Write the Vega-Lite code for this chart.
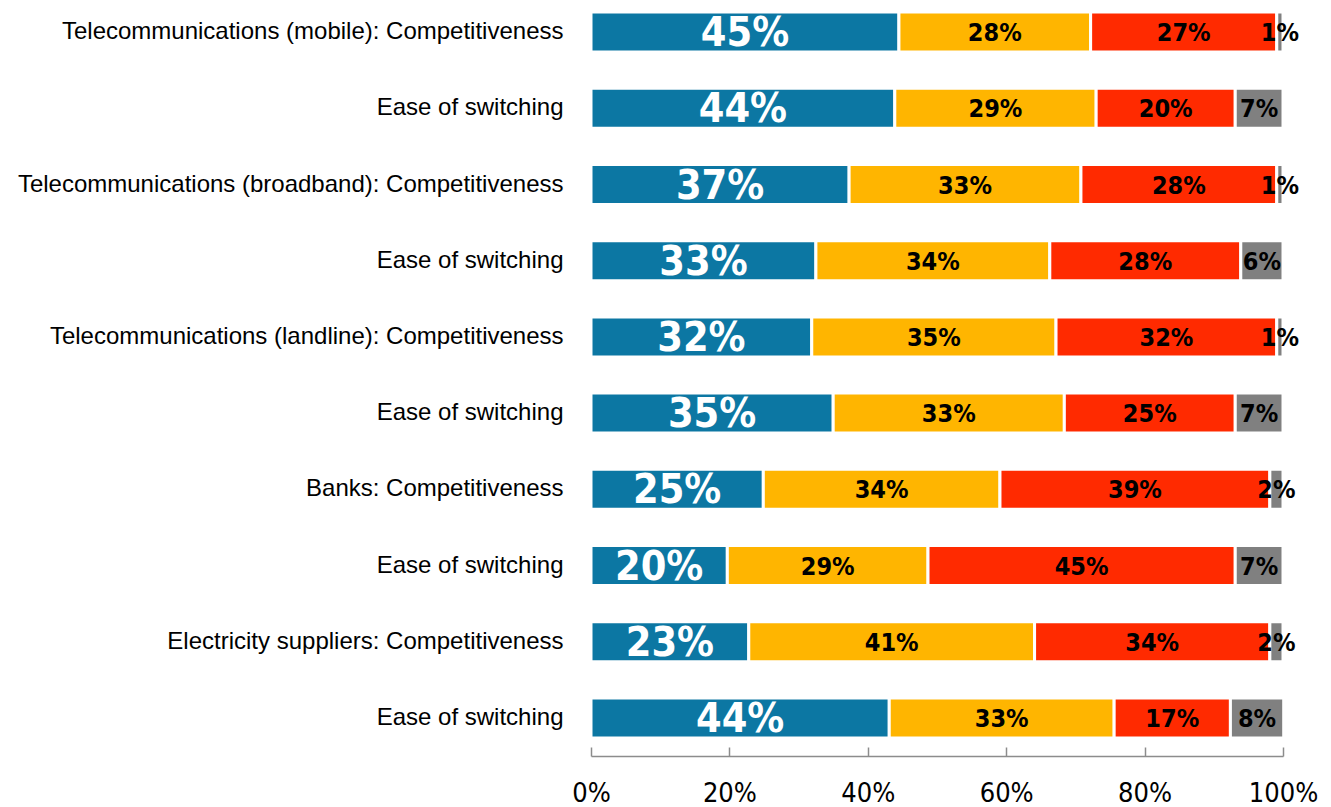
{
  "$schema": "https://vega.github.io/schema/vega-lite/v6.json",
  "autosize": {"type": "none"},
  "width": 692,
  "height": 762,
  "padding": {"left": 591, "top": -6, "right": 48, "bottom": 51},
  "background": "white",
  "config": {"view": {"stroke": null}},
  "data": {"values": [
    {"cat": "Telecommunications (mobile): Competitiveness", "r": 1, "seg": "A", "o": 1, "v": 44.5, "label": "45%"},
    {"cat": "Telecommunications (mobile): Competitiveness", "r": 1, "seg": "B", "o": 2, "v": 27.7, "label": "28%"},
    {"cat": "Telecommunications (mobile): Competitiveness", "r": 1, "seg": "C", "o": 3, "v": 26.9, "label": "27%"},
    {"cat": "Telecommunications (mobile): Competitiveness", "r": 1, "seg": "D", "o": 4, "v": 0.9, "label": "1%"},
    {"cat": "Telecommunications (mobile): Ease of switching", "r": 2, "seg": "A", "o": 1, "v": 43.9, "label": "44%"},
    {"cat": "Telecommunications (mobile): Ease of switching", "r": 2, "seg": "B", "o": 2, "v": 29.1, "label": "29%"},
    {"cat": "Telecommunications (mobile): Ease of switching", "r": 2, "seg": "C", "o": 3, "v": 20.1, "label": "20%"},
    {"cat": "Telecommunications (mobile): Ease of switching", "r": 2, "seg": "D", "o": 4, "v": 6.9, "label": "7%"},
    {"cat": "Telecommunications (broadband): Competitiveness", "r": 3, "seg": "A", "o": 1, "v": 37.3, "label": "37%"},
    {"cat": "Telecommunications (broadband): Competitiveness", "r": 3, "seg": "B", "o": 2, "v": 33.5, "label": "33%"},
    {"cat": "Telecommunications (broadband): Competitiveness", "r": 3, "seg": "C", "o": 3, "v": 28.3, "label": "28%"},
    {"cat": "Telecommunications (broadband): Competitiveness", "r": 3, "seg": "D", "o": 4, "v": 0.9, "label": "1%"},
    {"cat": "Telecommunications (broadband): Ease of switching", "r": 4, "seg": "A", "o": 1, "v": 32.5, "label": "33%"},
    {"cat": "Telecommunications (broadband): Ease of switching", "r": 4, "seg": "B", "o": 2, "v": 33.8, "label": "34%"},
    {"cat": "Telecommunications (broadband): Ease of switching", "r": 4, "seg": "C", "o": 3, "v": 27.6, "label": "28%"},
    {"cat": "Telecommunications (broadband): Ease of switching", "r": 4, "seg": "D", "o": 4, "v": 6.1, "label": "6%"},
    {"cat": "Telecommunications (landline): Competitiveness", "r": 5, "seg": "A", "o": 1, "v": 31.9, "label": "32%"},
    {"cat": "Telecommunications (landline): Competitiveness", "r": 5, "seg": "B", "o": 2, "v": 35.3, "label": "35%"},
    {"cat": "Telecommunications (landline): Competitiveness", "r": 5, "seg": "C", "o": 3, "v": 31.9, "label": "32%"},
    {"cat": "Telecommunications (landline): Competitiveness", "r": 5, "seg": "D", "o": 4, "v": 0.9, "label": "1%"},
    {"cat": "Telecommunications (landline): Ease of switching", "r": 6, "seg": "A", "o": 1, "v": 35.0, "label": "35%"},
    {"cat": "Telecommunications (landline): Ease of switching", "r": 6, "seg": "B", "o": 2, "v": 33.4, "label": "33%"},
    {"cat": "Telecommunications (landline): Ease of switching", "r": 6, "seg": "C", "o": 3, "v": 24.7, "label": "25%"},
    {"cat": "Telecommunications (landline): Ease of switching", "r": 6, "seg": "D", "o": 4, "v": 6.9, "label": "7%"},
    {"cat": "Banks: Competitiveness", "r": 7, "seg": "A", "o": 1, "v": 24.9, "label": "25%"},
    {"cat": "Banks: Competitiveness", "r": 7, "seg": "B", "o": 2, "v": 34.2, "label": "34%"},
    {"cat": "Banks: Competitiveness", "r": 7, "seg": "C", "o": 3, "v": 39.0, "label": "39%"},
    {"cat": "Banks: Competitiveness", "r": 7, "seg": "D", "o": 4, "v": 1.9, "label": "2%"},
    {"cat": "Banks: Ease of switching", "r": 8, "seg": "A", "o": 1, "v": 19.7, "label": "20%"},
    {"cat": "Banks: Ease of switching", "r": 8, "seg": "B", "o": 2, "v": 29.0, "label": "29%"},
    {"cat": "Banks: Ease of switching", "r": 8, "seg": "C", "o": 3, "v": 44.4, "label": "45%"},
    {"cat": "Banks: Ease of switching", "r": 8, "seg": "D", "o": 4, "v": 6.9, "label": "7%"},
    {"cat": "Electricity suppliers: Competitiveness", "r": 9, "seg": "A", "o": 1, "v": 22.8, "label": "23%"},
    {"cat": "Electricity suppliers: Competitiveness", "r": 9, "seg": "B", "o": 2, "v": 41.3, "label": "41%"},
    {"cat": "Electricity suppliers: Competitiveness", "r": 9, "seg": "C", "o": 3, "v": 34.0, "label": "34%"},
    {"cat": "Electricity suppliers: Competitiveness", "r": 9, "seg": "D", "o": 4, "v": 1.9, "label": "2%"},
    {"cat": "Electricity suppliers: Ease of switching", "r": 10, "seg": "A", "o": 1, "v": 43.1, "label": "44%"},
    {"cat": "Electricity suppliers: Ease of switching", "r": 10, "seg": "B", "o": 2, "v": 32.5, "label": "33%"},
    {"cat": "Electricity suppliers: Ease of switching", "r": 10, "seg": "C", "o": 3, "v": 16.8, "label": "17%"},
    {"cat": "Electricity suppliers: Ease of switching", "r": 10, "seg": "D", "o": 4, "v": 7.7, "label": "8%"}
  ]},
  "transform": [
    {"stack": "v", "groupby": ["cat"], "sort": [{"field": "o", "order": "ascending"}], "as": ["x0", "x1"]},
    {"calculate": "(datum.x0 + datum.x1) / 2", "as": "xm"}
  ],
  "encoding": {
    "y": {
      "field": "cat", "type": "nominal", "sort": {"field": "r", "order": "ascending"},
      "scale": {"paddingInner": 0.475, "paddingOuter": 0.2375},
      "axis": {
        "title": null, "domain": false, "ticks": false, "labelPadding": 28,
        "labelFont": "Liberation Sans", "labelFontSize": 24, "labelColor": "#000000", "labelLimit": 0,
        "labelExpr": "indexof(datum.label, ': Ease of switching') > 0 ? 'Ease of switching' : datum.label"
      }
    }
  },
  "layer": [
    {
      "mark": {"type": "bar", "stroke": "white", "strokeWidth": 3},
      "encoding": {
        "x": {
          "field": "x0", "type": "quantitative",
          "scale": {"domain": [0, 100], "nice": false},
          "axis": {
            "title": null, "values": [0, 20, 40, 60, 80, 100], "grid": false,
            "labelExpr": "datum.value + '%'",
            "domainColor": "#8c8c8c", "tickColor": "#8c8c8c", "tickSize": -9, "domainWidth": 1.5, "tickWidth": 1.5,
            "labelFont": "DejaVu Sans Condensed", "labelFontSize": 27, "labelColor": "#000000",
            "labelPadding": 33, "labelFlush": false
          }
        },
        "x2": {"field": "x1"},
        "color": {
          "field": "seg", "type": "nominal", "legend": null,
          "scale": {"domain": ["A", "B", "C", "D"], "range": ["#0C77A3", "#FFB500", "#FF2A00", "#808080"]}
        }
      }
    },
    {
      "transform": [{"filter": "datum.o === 1"}],
      "mark": {"type": "text", "font": "DejaVu Sans Condensed", "fontWeight": "bold", "fontSize": 41, "color": "white", "baseline": "middle", "dy": 2},
      "encoding": {
        "x": {"field": "xm", "type": "quantitative"},
        "text": {"field": "label"}
      }
    },
    {
      "transform": [{"filter": "datum.o !== 1"}],
      "mark": {"type": "text", "font": "DejaVu Sans Condensed", "fontWeight": "bold", "fontSize": 25, "color": "black", "baseline": "middle", "dy": 1},
      "encoding": {
        "x": {"field": "xm", "type": "quantitative"},
        "text": {"field": "label"}
      }
    }
  ]
}
